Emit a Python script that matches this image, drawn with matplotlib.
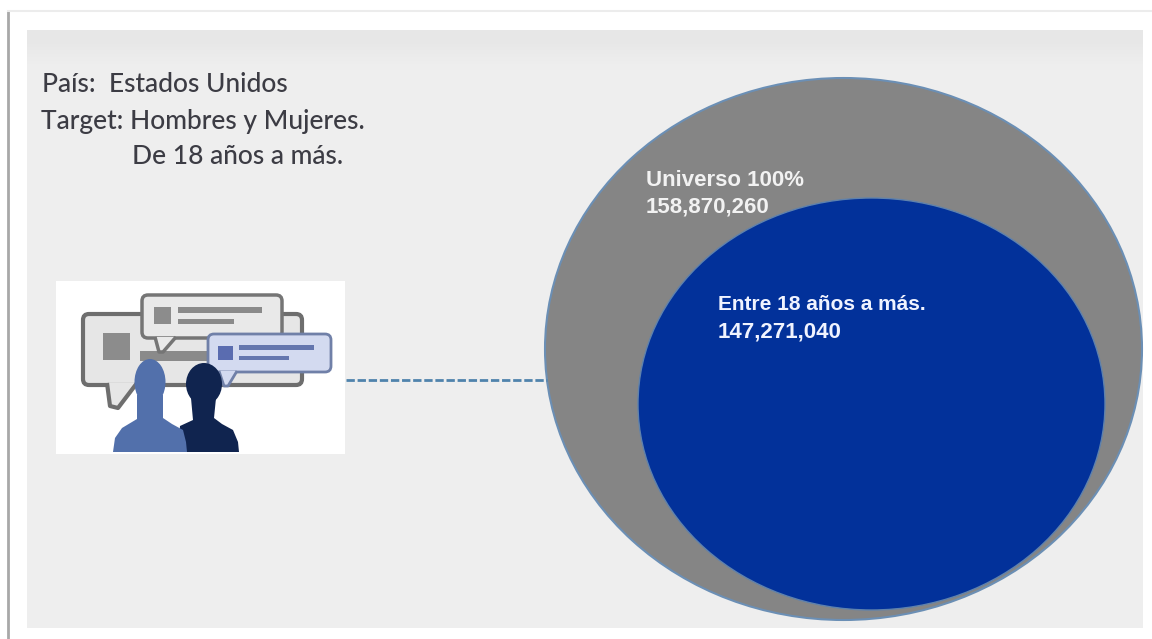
import matplotlib
matplotlib.use('Agg')
import matplotlib.pyplot as plt
from matplotlib.patches import Ellipse, Rectangle, FancyBboxPatch, Polygon

# Audience figures
universe_label = 'Universo 100%'
universe_value = 158870260
segment_label = 'Entre 18 años a más.'
segment_value = 147271040

# Header text
info_lines = ['País:  Estados Unidos', 'Target: Hombres y Mujeres.', 'De 18 años a más.']

W, H = 1152, 639
fig = plt.figure(figsize=(W / 100, H / 100), dpi=100, facecolor='white')
ax = fig.add_axes([0, 0, 1, 1])

# Slide frame and grey panel, slightly darker along the top
ax.plot([8, 8], [11, 639], color='#a8a8a8', lw=2)
ax.plot([8, 1152], [11, 11], color='#ececec', lw=1.5)
ax.add_patch(Rectangle((27, 30), 1116, 598, fc='#eeeeee', ec='none'))
ax.imshow([[0.905], [0.933]], cmap='gray', vmin=0, vmax=1, aspect='auto',
          interpolation='bilinear', extent=(27, 1143, 80, 30), zorder=1)
ax.set_xlim(0, W)
ax.set_ylim(H, 0)
ax.axis('off')

# Header text
ax.text(42, 85, info_lines[0], fontsize=19, family='Lato', weight='medium', color='#3c3c44', va='center')
ax.text(41, 122, info_lines[1], fontsize=19, family='Lato', weight='medium', color='#3c3c44', va='center')
ax.text(132, 157, info_lines[2], fontsize=19, family='Lato', weight='medium', color='#3c3c44', va='center')

# Nested circles
ax.add_patch(Ellipse((843.5, 349), 597, 542, fc='#858585', ec='#6b8fb5', lw=1.5, zorder=2))
ax.add_patch(Ellipse((871.5, 404), 467, 412, fc='#02319a', ec='#5f82ad', lw=1, zorder=3))

ax.text(646, 180, universe_label, fontsize=16, family='Liberation Sans', weight='bold',
        color='#f2f2f2', va='center', zorder=4)
ax.text(646, 207, f'{universe_value:,}', fontsize=16, family='Liberation Sans', weight='bold',
        color='#f2f2f2', va='center', zorder=2.5)
ax.text(718, 305, segment_label, fontsize=15, family='Liberation Sans', weight='bold',
        color='#f0f3ff', va='center', zorder=4)
ax.text(718, 332, f'{segment_value:,}', fontsize=16, family='Liberation Sans', weight='bold',
        color='#f0f3ff', va='center', zorder=4)

# Dashed connector
ax.plot([346, 547], [380, 380], color='#4f83ac', lw=2, ls=(0, (3, 1)), zorder=2)

# Icon box
ax.add_patch(Rectangle((56, 281), 289, 173, fc='white', ec='none', zorder=2))


def bubble(x0, y0, x1, y1, tail, fc, ec, lw, z):
    ax.add_patch(FancyBboxPatch((x0 + 5, y0 + 5), x1 - x0 - 10, y1 - y0 - 10,
                                boxstyle='round,pad=5,rounding_size=6',
                                fc=fc, ec=ec, lw=lw, zorder=z))
    ax.add_patch(Polygon(tail, closed=False, fc=fc, ec=ec, lw=lw, joinstyle='round', zorder=z + 0.1))


bubble(83, 314, 302, 385, [(107, 383), (110, 406), (118, 408), (137, 383)], '#e6e6e6', '#6e6e6e', 3, 3)
ax.add_patch(Rectangle((103, 333), 27, 27, fc='#8c8c8c', ec='none', zorder=3.5))
ax.add_patch(Rectangle((140, 351), 70, 10, fc='#8a8a8a', ec='none', zorder=3.5))

bubble(142, 295, 282, 338, [(155, 337), (159, 352), (163, 352), (176, 337)], '#e9e9e9', '#757575', 2.5, 4)
ax.add_patch(Rectangle((154, 307), 17, 17, fc='#8c8c8c', ec='none', zorder=4.5))
ax.add_patch(Rectangle((178, 307), 84, 6, fc='#8a8a8a', ec='none', zorder=4.5))
ax.add_patch(Rectangle((178, 319), 56, 5, fc='#8a8a8a', ec='none', zorder=4.5))

bubble(208, 334, 331, 372, [(219, 371), (224, 386), (228, 386), (237, 371)], '#d3daf0', '#7080a8', 2, 5)
ax.add_patch(Rectangle((218, 346), 15, 14, fc='#5a6cb0', ec='none', zorder=5.5))
ax.add_patch(Rectangle((239, 345), 75, 5, fc='#6476ae', ec='none', zorder=5.5))
ax.add_patch(Rectangle((239, 356), 50, 4, fc='#6476ae', ec='none', zorder=5.5))

# Silhouettes: dark figure sits behind the lighter one
dark = '#10244f'
ax.add_patch(Ellipse((204, 384), 36, 42, fc=dark, ec='none', zorder=6))
ax.add_patch(Polygon([(191, 398), (216, 398), (214, 418), (222, 424), (233, 430), (238, 442), (239, 452),
                      (178, 452), (180, 426), (193, 420)], fc=dark, ec='none', zorder=6))
light = '#5270ab'
ax.add_patch(Ellipse((150, 382), 31, 46, fc=light, ec='none', zorder=7))
ax.add_patch(Polygon([(137, 395), (163, 395), (163, 418), (172, 424), (183, 430), (186, 442), (187, 452),
                      (113, 452), (115, 438), (122, 428), (137, 419)], fc=light, ec='none', zorder=7))

fig.savefig('out.png', dpi=100, facecolor='white')
